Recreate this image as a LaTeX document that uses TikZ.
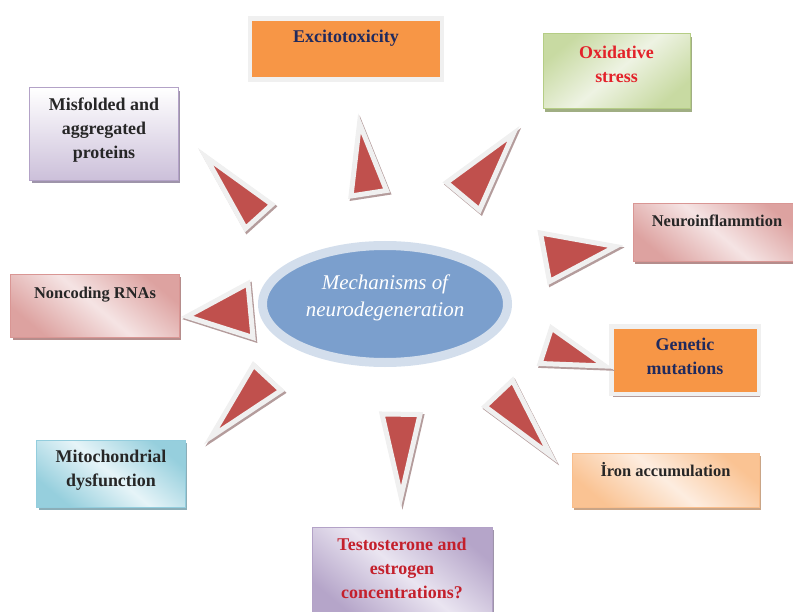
\documentclass[tikz,border=0pt]{standalone}
\usepackage{fontspec}
\setmainfont{Liberation Serif}
\usepackage{tikz}
\usetikzlibrary{arrows,shapes.geometric,shadows}

\definecolor{wedgeRed}{HTML}{C0504D}
\definecolor{wedgeRim}{HTML}{F0F0F0}
\definecolor{wedgeShade}{HTML}{B49C9C}
\definecolor{boxOrange}{HTML}{F79646}
\definecolor{txtNavy}{HTML}{202A5E}
\definecolor{txtRed}{HTML}{E3222A}
\definecolor{txtDarkRed}{HTML}{C4202C}
\definecolor{txtGray}{HTML}{262626}
\definecolor{ellBlue}{HTML}{7B9FCD}
\definecolor{ellRing}{HTML}{D3DEEC}
\definecolor{lavEdge}{HTML}{B3A2C7}
\definecolor{lavDark}{HTML}{CCC0DA}
\definecolor{greenEdge}{HTML}{B5CD85}
\definecolor{greenDark}{HTML}{C8DAA2}
\definecolor{greenLight}{HTML}{EEF3E3}
\definecolor{pinkEdge}{HTML}{D99694}
\definecolor{pinkDark}{HTML}{DDA2A0}
\definecolor{pinkLight}{HTML}{F5E4E4}
\definecolor{cyanEdge}{HTML}{93CDDD}
\definecolor{cyanDark}{HTML}{96CFDD}
\definecolor{cyanLight}{HTML}{E6F4F8}
\definecolor{peachEdge}{HTML}{F9BE8C}
\definecolor{peachDark}{HTML}{FAC393}
\definecolor{peachLight}{HTML}{FDEDE0}
\definecolor{purDark}{HTML}{B5A5C9}
\definecolor{purLight}{HTML}{EAE5F1}

\begin{document}
\begin{tikzpicture}[x=1bp,y=-1bp,
  every node/.style={font=\fontsize{16.5}{24}\selectfont\bfseries,text=txtGray,align=center,inner sep=0pt},
  big text/.style={font=\fontsize{18}{24}\selectfont\bfseries},
  main ellipse/.style={ellipse,fill=ellBlue,draw=ellRing,line width=9bp,text=white,
    font=\fontsize{21}{27}\selectfont\itshape},
  frame box/.style={rectangle,fill=boxOrange,draw=wedgeRim,line width=4.5bp,text=txtNavy,big text,
    drop shadow={shadow xshift=1.5bp,shadow yshift=-3bp,fill=wedgeShade,opacity=1}},
  mech box/.style n args={4}{rectangle,draw=#1,line width=1bp,top color=#2,bottom color=#2,
    middle color=#3,shading angle=#4,
    drop shadow={shadow xshift=2bp,shadow yshift=-3bp,fill=#1!75!black,opacity=.8}},
  one line/.style={text height=12bp,text depth=#1},
  wedge/.style={fill=wedgeRed,draw=wedgeRim,line width=5bp,line join=miter},
  wedge shadow/.style={fill=wedgeShade,draw=wedgeShade,line width=5bp,line join=miter}]

  \useasboundingbox (0,0) rectangle (793,612);
  \clip (0,0) rectangle (793,612);

  % centre
  \node[main ellipse,minimum width=245bp,minimum height=117bp,text depth=17bp] (mech) at (385,304)
    {Mechanisms of\\neurodegeneration};

  % mechanisms
  \node[frame box,minimum width=192bp,minimum height=61bp,one line=24bp] (exc) at (346,49) {Excitotoxicity};
  \node[mech box={lavEdge}{white}{white}{0},bottom color=lavDark,middle color=lavDark!50!white,big text,
    minimum width=148bp,minimum height=92bp,text depth=12bp] (mis) at (104,134) {Misfolded and\\aggregated\\proteins};
  \node[mech box={greenEdge}{greenDark}{greenLight}{40},text=txtRed,big text,
    minimum width=147bp,minimum height=75bp,text depth=14bp] (oxi) at (616.5,71.5) {Oxidative\\stress};
  \node[mech box={pinkEdge}{pinkDark}{pinkLight}{-40},
    minimum width=168bp,minimum height=57bp,one line=23bp] (neu) at (717,232.5) {Neuroinflammtion};
  \node[mech box={pinkEdge}{pinkDark}{pinkLight}{-40},
    minimum width=168bp,minimum height=63bp,one line=27bp] (non) at (95,305.5) {Noncoding RNAs};
  \node[frame box,minimum width=147.5bp,minimum height=67.5bp,text depth=8bp] (gen) at (685,360) {Genetic\\mutations};
  \node[mech box={peachEdge}{peachDark}{peachLight}{-40},
    minimum width=187bp,minimum height=54bp,one line=20bp] (iro) at (665.5,480) {\.Iron accumulation};
  \node[mech box={cyanEdge}{cyanDark}{cyanLight}{-40},big text,
    minimum width=148bp,minimum height=67bp,text depth=10bp] (mit) at (111,473.5) {Mitochondrial\\dysfunction};
  \node[mech box={lavEdge}{purDark}{purLight}{-40},text=txtDarkRed,big text,
    minimum width=180bp,minimum height=90bp,text depth=8bp] (tes) at (402,572) {Testosterone and\\estrogen\\concentrations?};

  % wedges pointing out to the boxes
  \foreach \ax/\ay/\bx/\by/\cx/\cy in {205.5/156.5/272/204.5/245.5/228.5,
      359.5/123.5/351/196/386.5/190.5, 513.5/133.5/446.5/182.5/479.5/210,
      615.5/246.5/540.5/233/549.5/281.5, 187/316.5/253/337.5/248/283.5,
      211.5/436.5/253.5/365/281/390.5, 401/496.5/382/414/420/414.5,
      550.5/455/485/406.5/512.5/380.5, 605/366/551.5/328/540/363.5}{
    \filldraw[wedge shadow] (\ax+1.5,\ay+2) -- (\bx+1.5,\by+2) -- (\cx+1.5,\cy+2) -- cycle;
    \filldraw[wedge] (\ax,\ay) -- (\bx,\by) -- (\cx,\cy) -- cycle;
  }
\end{tikzpicture}
\end{document}
